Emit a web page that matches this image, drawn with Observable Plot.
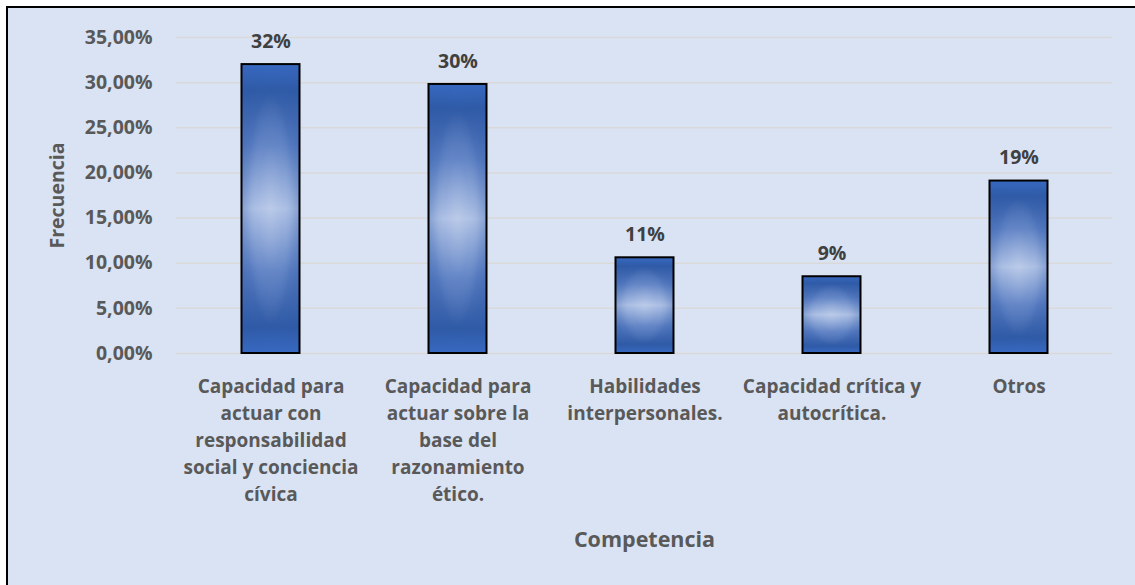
<!DOCTYPE html>
<html>
<head>
<meta charset="utf-8">
<script src="https://cdn.jsdelivr.net/npm/d3@7"></script>
<script src="https://cdn.jsdelivr.net/npm/@observablehq/plot@0.6"></script>
<style>
  html, body { margin: 0; padding: 0; width: 1135px; height: 585px; overflow: hidden; background: #ffffff; }
  #frame { position: absolute; left: 6px; top: 6px; width: 1200px; height: 700px; background: #dae3f3; border: 2px solid #000; }
  #chart { position: absolute; left: 0; top: 0; }
  #chart svg { background: transparent; }
</style>
</head>
<body>
<div id="frame"></div>
<div id="chart"></div>
<script>
const categories = [
  "Capacidad para\nactuar con\nresponsabilidad\nsocial y conciencia\ncívica",
  "Capacidad para\nactuar sobre la\nbase del\nrazonamiento\nético.",
  "Habilidades\ninterpersonales.",
  "Capacidad crítica y\nautocrítica.",
  "Otros"
];
const values = [0.32, 0.298, 0.106, 0.085, 0.191];
const valueLabels = ["32%", "30%", "11%", "9%", "19%"];
const yTicks = [0, 0.05, 0.10, 0.15, 0.20, 0.25, 0.30, 0.35];

const data = categories.map((c, i) => ({cat: c, value: values[i], label: valueLabels[i]}));
const font = "'Open Sans', sans-serif";
const fmt = d => (d * 100).toFixed(2).replace(".", ",") + "%";
const barOpts = {x: "cat", y: "value", insetLeft: 64.5, insetRight: 64.5};

const chart = Plot.plot({
  width: 1135,
  height: 585,
  marginLeft: 176,
  marginRight: 23,
  marginTop: 37,
  marginBottom: 232,
  style: {fontFamily: font, fontWeight: "bold", background: "transparent", color: "#595959"},
  x: {domain: categories, padding: 0, label: null},
  y: {domain: [0, 0.35], label: null},
  marks: [
    Plot.ruleY(yTicks, {stroke: "#d9d9d9", strokeWidth: 1.5}),
    Plot.barY(data, {...barOpts, fill: "url(#gradV)"}),
    Plot.barY(data, {...barOpts, fill: "url(#gradR)"}),
    Plot.barY(data, {...barOpts, fill: "none", stroke: "#000", strokeWidth: 2}),
    Plot.text(data, {x: "cat", y: "value", text: "label", dy: -23, fill: "#404040", fontSize: 19.5, fontWeight: "bold"}),
    Plot.axisY({ticks: yTicks, tickFormat: fmt, tickSize: 0, tickPadding: 24, fontSize: 19.5, fill: "#595959", label: null}),
    Plot.axisX({tickSize: 0, tickPadding: 20, fontSize: 19, lineHeight: 1.42, fill: "#595959", label: null, lineAnchor: "top"}),
    Plot.text(["Frecuencia"], {frameAnchor: "left", dx: -119, rotate: -90, textAnchor: "middle", fontSize: 19.5, fill: "#595959", fontWeight: "bold", lineAnchor: "middle"}),
    Plot.text(["Competencia"], {frameAnchor: "bottom", dy: 187, lineAnchor: "middle", fontSize: 21.5, fill: "#595959", fontWeight: "bold"})
  ]
});

const svg = d3.select(chart);
const defs = svg.insert("defs", ":first-child");
const gv = defs.append("linearGradient").attr("id", "gradV")
  .attr("x1", "0").attr("y1", "0").attr("x2", "0").attr("y2", "1");
[["0", "#3b6fcc"], ["0.09", "#2f5aa6"], ["0.28", "#5a7ec3"], ["0.5", "#a9bde3"], ["0.72", "#5a7ec3"], ["0.91", "#2f5aa6"], ["1", "#3b6fcc"]].forEach(([o, c]) => {
  gv.append("stop").attr("offset", o).attr("stop-color", c);
});
const gr = defs.append("radialGradient").attr("id", "gradR")
  .attr("cx", "0.5").attr("cy", "0.5").attr("r", "0.5");
[["0", "#ffffff", 0.2], ["0.45", "#ffffff", 0.06], ["0.8", "#2f5aa6", 0.15], ["1", "#2f5aa6", 0.3]].forEach(([o, c, op]) => {
  gr.append("stop").attr("offset", o).attr("stop-color", c).attr("stop-opacity", op);
});
document.getElementById("chart").appendChild(chart);
</script>
</body>
</html>
